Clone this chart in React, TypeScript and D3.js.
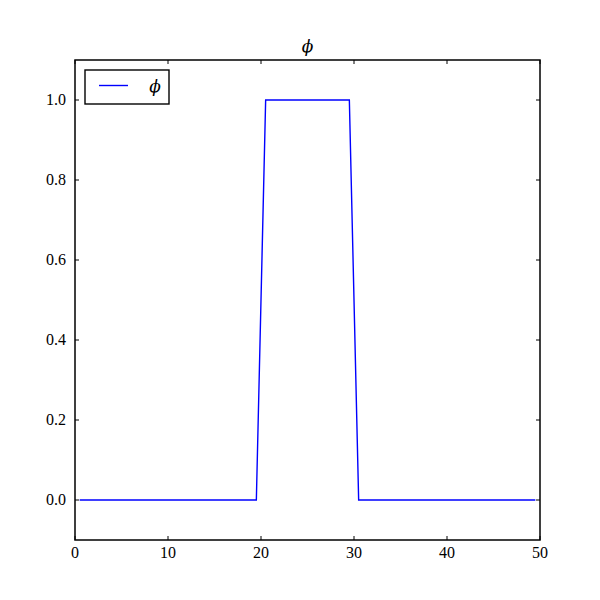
import React from "react";
import * as d3 from "d3";

const xValues = [
  0.5, 1.5, 2.5, 3.5, 4.5, 5.5, 6.5, 7.5, 8.5, 9.5,
  10.5, 11.5, 12.5, 13.5, 14.5, 15.5, 16.5, 17.5, 18.5, 19.5,
  20.5, 21.5, 22.5, 23.5, 24.5, 25.5, 26.5, 27.5, 28.5, 29.5,
  30.5, 31.5, 32.5, 33.5, 34.5, 35.5, 36.5, 37.5, 38.5, 39.5,
  40.5, 41.5, 42.5, 43.5, 44.5, 45.5, 46.5, 47.5, 48.5, 49.5,
];
const phiValues = [
  0, 0, 0, 0, 0, 0, 0, 0, 0, 0,
  0, 0, 0, 0, 0, 0, 0, 0, 0, 0,
  1, 1, 1, 1, 1, 1, 1, 1, 1, 1,
  0, 0, 0, 0, 0, 0, 0, 0, 0, 0,
  0, 0, 0, 0, 0, 0, 0, 0, 0, 0,
];
const xTicks = [0, 10, 20, 30, 40, 50];
const yTicks = [0.0, 0.2, 0.4, 0.6, 0.8, 1.0];
const titleText = "\u03D5";
const legendLabel = "\u03D5";

export default function App() {
  const W = 600, H = 600;
  const left = 75, right = 540, top = 60, bottom = 540;
  const x = d3.scaleLinear().domain([0, 50]).range([left, right]);
  const y = d3.scaleLinear().domain([-0.1, 1.1]).range([bottom, top]);
  const pts = xValues.map((xv, i) => [xv, phiValues[i]] as [number, number]);
  const line = d3.line<[number, number]>().x(d => x(d[0])).y(d => y(d[1]));
  const numFont = "'Liberation Serif', serif";
  const phiFont = "'DejaVu Serif', serif";
  const tl = 4;
  return (
    <svg width={W} height={H} style={{ position: "absolute", left: 0, top: 0, background: "#fff" }}>
      <rect x={0} y={0} width={W} height={H} fill="#fff" />
      <path d={line(pts) || ""} fill="none" stroke="#0000ff" strokeWidth={1.4} />
      {xTicks.map(t => (
        <g key={"x" + t}>
          <line x1={x(t)} x2={x(t)} y1={bottom} y2={bottom - tl} stroke="#000" />
          <line x1={x(t)} x2={x(t)} y1={top} y2={top + tl} stroke="#000" />
          <text x={x(t)} y={bottom + 18} textAnchor="middle" fontFamily={numFont} fontSize={16}>{t}</text>
        </g>
      ))}
      {yTicks.map(t => (
        <g key={"y" + t}>
          <line x1={left} x2={left + tl} y1={y(t)} y2={y(t)} stroke="#000" />
          <line x1={right} x2={right - tl} y1={y(t)} y2={y(t)} stroke="#000" />
          <text x={left - 9} y={y(t) + 5} textAnchor="end" fontFamily={numFont} fontSize={16}>{t.toFixed(1)}</text>
        </g>
      ))}
      <rect x={left} y={top} width={right - left} height={bottom - top} fill="none" stroke="#000" strokeWidth={1.5} />
      <text x={(left + right) / 2} y={52} textAnchor="middle" fontFamily={phiFont} fontStyle="italic" fontSize={17}>{titleText}</text>
      <rect x={85} y={70} width={84} height={34} fill="#fff" stroke="#000" strokeWidth={1.4} />
      <line x1={99} x2={128} y1={85.5} y2={85.5} stroke="#0000ff" strokeWidth={1.4} />
      <text x={155} y={92} textAnchor="middle" fontFamily={phiFont} fontStyle="italic" fontSize={17}>{legendLabel}</text>
    </svg>
  );
}
